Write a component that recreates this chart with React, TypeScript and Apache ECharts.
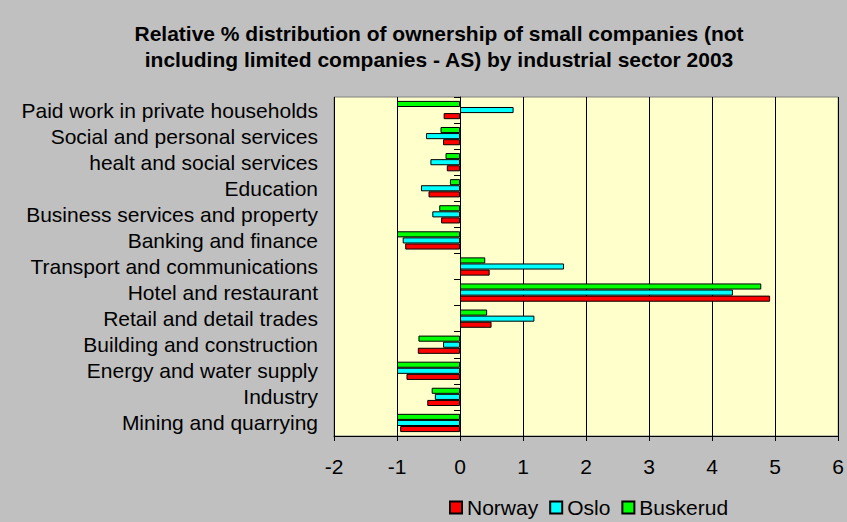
import React, { useEffect, useRef } from "react";
import * as echarts from "echarts";

const categories = [
  "Mining and quarrying",
  "Industry",
  "Energy and water supply",
  "Building and construction",
  "Retail and detail trades",
  "Hotel and restaurant",
  "Transport and communications",
  "Banking and finance",
  "Business services and property",
  "Education",
  "healt and social services",
  "Social and personal services",
  "Paid work in private households",
];

const norway = [-0.95, -0.52, -0.85, -0.67, 0.5, 4.92, 0.47, -0.87, -0.3, -0.5, -0.21, -0.27, -0.26];
const oslo = [-1.0, -0.4, -1.0, -0.27, 1.18, 4.33, 1.65, -0.91, -0.44, -0.62, -0.47, -0.54, 0.85];
const buskerud = [-1.0, -0.45, -1.0, -0.66, 0.43, 4.78, 0.4, -1.0, -0.33, -0.16, -0.23, -0.31, -1.0];

const xTicks = ["-2", "-1", "0", "1", "2", "3", "4", "5", "6"];

const FONT = "Liberation Sans, Arial, sans-serif";
const FS = 21;

export default function App() {
  const ref = useRef<HTMLDivElement>(null);
  useEffect(() => {
    if (!ref.current) return;
    const chart = echarts.init(ref.current, undefined, { renderer: "svg" });
    const mk = (name: string, data: number[], color: string) => ({
      name,
      type: "bar",
      data,
      yAxisIndex: 0,
      barGap: "0%",
      barCategoryGap: "30%",
      itemStyle: { color, borderColor: "#000", borderWidth: 1 },
    });
    chart.setOption({
      animation: false,
      backgroundColor: "#C0C0C0",
      textStyle: { fontFamily: FONT },
      title: {
        text: "Relative % distribution of ownership of small companies (not\nincluding limited companies - AS) by industrial sector 2003",
        left: 434,
        textAlign: "center",
        top: 15,
        textStyle: { fontFamily: FONT, fontWeight: "bold", fontSize: FS, lineHeight: 26, color: "#000" },
      },
      legend: {
        left: 449,
        top: 497,
        padding: 0,
        itemWidth: 12,
        itemHeight: 12,
        itemGap: 11,
        icon: "rect",
        textStyle: { fontFamily: FONT, fontSize: FS, color: "#000" },
        data: ["Norway", "Oslo", "Buskerud"],
      },
      grid: {
        left: 334,
        right: 8,
        top: 97,
        bottom: 86,
        show: true,
        backgroundColor: "#FFFFCC",
        borderColor: "#808080",
        borderWidth: 1,
      },
      xAxis: {
        type: "value",
        min: -2,
        max: 6,
        interval: 1,
        axisLine: { show: true, lineStyle: { color: "#000", width: 1 } },
        axisTick: { show: true, length: 5, lineStyle: { color: "#000" } },
        axisLabel: {
          margin: 20,
          fontSize: FS,
          color: "#000",
          fontFamily: FONT,
          formatter: (v: number) => xTicks[Math.round(v) + 2] ?? String(v),
        },
        splitLine: { show: true, lineStyle: { color: "#000", width: 1 } },
      },
      yAxis: [
        {
          type: "category",
          data: categories,
          position: "left",
          axisLine: { show: true, onZero: true, lineStyle: { color: "#000", width: 1 } },
          axisTick: { show: true, interval: 0, length: 6, lineStyle: { color: "#000" } },
          axisLabel: { show: false, interval: 0 },
          splitLine: { show: false },
        },
        {
          type: "category",
          data: categories,
          position: "left",
          axisLine: { show: false, onZero: false },
          axisTick: { show: false },
          axisLabel: { show: true, interval: 0, margin: 16, fontSize: FS, color: "#000", fontFamily: FONT },
          splitLine: { show: false },
        },
      ],
      series: [
        mk("Buskerud", buskerud, "#00FF00"),
        mk("Oslo", oslo, "#00FFFF"),
        mk("Norway", norway, "#FF0000"),
      ],
    });
    return () => chart.dispose();
  }, []);
  return (
    <div
      ref={ref}
      style={{ position: "fixed", left: 0, top: 0, width: 847, height: 522 }}
    />
  );
}
